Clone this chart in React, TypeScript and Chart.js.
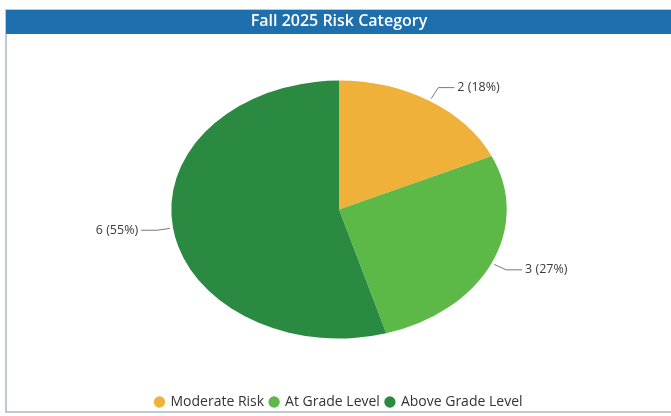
import React, { useEffect, useRef } from "react";
import { Chart, registerables } from "chart.js";

Chart.register(...registerables);

const chartTitle = "Fall 2025 Risk Category";
const categories = ["Moderate Risk", "At Grade Level", "Above Grade Level"];
const counts = [2, 3, 6];
const sliceColors = ["#f0b13a", "#5db947", "#2b8a41"];

const X_STRETCH = 1.3;
const FONT = "'Open Sans', 'Liberation Sans', sans-serif";

const framePlugin = {
  id: "frame",
  beforeDraw(chart: any) {
    const { ctx, width, height } = chart;
    ctx.save();
    ctx.fillStyle = "#ffffff";
    ctx.fillRect(0, 0, width, height);
    ctx.strokeStyle = "#a9b7c3";
    ctx.lineWidth = 1.5;
    ctx.strokeRect(6, 10, width + 10, 402);
    ctx.fillStyle = "#1e6fae";
    ctx.fillRect(6, 10, width - 6, 24);
    ctx.restore();
  },
};

const ellipsePlugin = {
  id: "ellipse",
  beforeDatasetsDraw(chart: any) {
    const meta = chart.getDatasetMeta(0);
    const arc = meta.data[0];
    if (!arc) return;
    const cx = arc.x;
    const ctx = chart.ctx;
    ctx.save();
    ctx.translate(cx, 0);
    ctx.scale(X_STRETCH, 1);
    ctx.translate(-cx, 0);
  },
  afterDatasetsDraw(chart: any) {
    const ctx = chart.ctx;
    ctx.restore();
    const meta = chart.getDatasetMeta(0);
    const values = chart.data.datasets[0].data as number[];
    const total = values.reduce((a, b) => a + b, 0);
    ctx.save();
    ctx.font = `12.5px ${FONT}`;
    ctx.fillStyle = "#3a3a3a";
    ctx.strokeStyle = "#555555";
    ctx.lineWidth = 0.8;
    ctx.textBaseline = "middle";
    meta.data.forEach((el: any, i: number) => {
      const p = el.getProps(["x", "y", "startAngle", "endAngle", "outerRadius"], true);
      const mid = (p.startAngle + p.endAngle) / 2;
      const c = Math.cos(mid);
      const s = Math.sin(mid);
      const a = p.outerRadius * X_STRETCH;
      const b = p.outerRadius;
      const x0 = p.x + (a + 3) * c;
      const y0 = p.y + (b + 3) * s;
      const x1 = p.x + (a + 16) * c;
      const y1 = p.y + (b + 16) * s;
      const dir = c >= 0 ? 1 : -1;
      const x2 = x1 + dir * 16;
      ctx.beginPath();
      ctx.moveTo(x0, y0);
      ctx.lineTo(x1, y1);
      ctx.lineTo(x2, y1);
      ctx.stroke();
      const pct = Math.round((values[i] / total) * 100);
      ctx.textAlign = dir > 0 ? "left" : "right";
      ctx.fillText(`${values[i]} (${pct}%)`, x2 + dir * 3, y1);
    });
    ctx.restore();
  },
};

export default function App() {
  const ref = useRef<HTMLCanvasElement | null>(null);
  useEffect(() => {
    if (!ref.current) return;
    Chart.defaults.font.family = FONT;
    const chart = new Chart(ref.current, {
      type: "pie",
      data: {
        labels: categories,
        datasets: [
          {
            data: counts,
            backgroundColor: sliceColors,
            borderWidth: 0,
            radius: 129,
          } as any,
        ],
      },
      options: {
        animation: false,
        responsive: false,
        events: [],
        layout: { padding: { left: 7, right: 0, top: 0, bottom: -3 } },
        plugins: {
          tooltip: { enabled: false },
          title: {
            display: true,
            text: chartTitle,
            color: "#ffffff",
            font: { family: FONT, size: 16, weight: "600" as any },
            padding: { top: 12, bottom: -1 },
          },
          legend: {
            position: "bottom",
            labels: {
              usePointStyle: true,
              pointStyle: "circle",
              boxWidth: 8,
              boxHeight: 8,
              padding: 6,
              color: "#333333",
              font: { family: FONT, size: 14 },
            },
          },
        },
      },
      plugins: [framePlugin, ellipsePlugin],
    });
    return () => chart.destroy();
  }, []);
  return (
    <div style={{ position: "absolute", left: 0, top: 0, width: 671, height: 416, background: "#fff" }}>
      <canvas ref={ref} width={671} height={416} style={{ width: 671, height: 416, display: "block" }} />
    </div>
  );
}
